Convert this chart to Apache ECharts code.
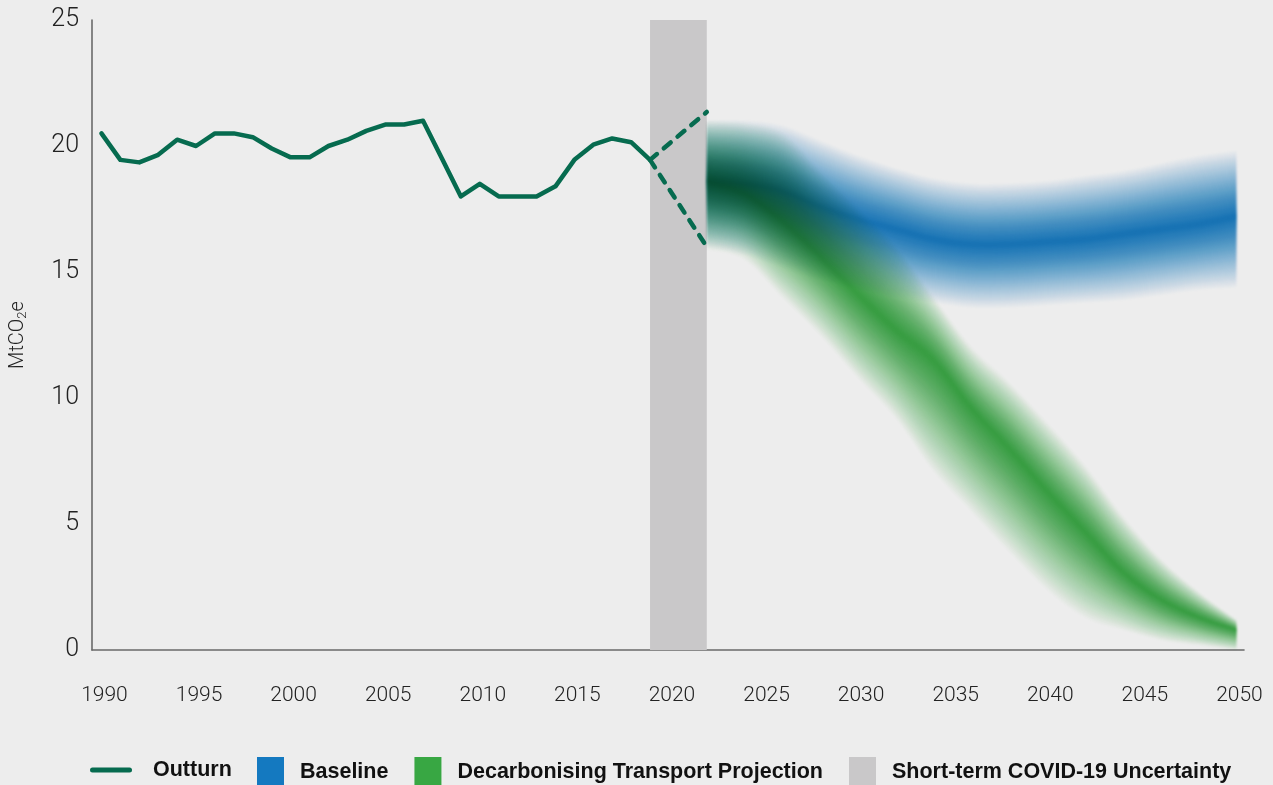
<!DOCTYPE html>
<html>
<head>
<meta charset="utf-8">
<script src="https://cdn.jsdelivr.net/npm/echarts@6/dist/echarts.min.js"></script>
<style>
  html, body { margin: 0; padding: 0; background: #ededed; }
  #chart { width: 1273px; height: 785px; }
  /* the two projection fans sit on their own canvas layers and multiply where they overlap */
  #chart canvas[data-zr-dom-id="zr_1"],
  #chart canvas[data-zr-dom-id="zr_2"] { mix-blend-mode: multiply; filter: blur(1.2px); }
</style>
</head>
<body>
<div id="chart"></div>
<script>
// ---- Data (MtCO2e) ----
const outturnYears = [1990, 1991, 1992, 1993, 1994, 1995, 1996, 1997, 1998, 1999,
                      2000, 2001, 2002, 2003, 2004, 2005, 2006, 2007, 2008, 2009,
                      2010, 2011, 2012, 2013, 2014, 2015, 2016, 2017, 2018, 2019];
const outturnValues = [20.5, 19.45, 19.35, 19.65, 20.25, 20.0, 20.5, 20.5, 20.35, 19.9,
                       19.55, 19.55, 20.0, 20.25, 20.6, 20.85, 20.85, 21.0, 19.5, 18.0,
                       18.5, 18.0, 18.0, 18.0, 18.4, 19.45, 20.05, 20.3, 20.15, 19.45];

// short-term COVID-19 range
const covidWindow = [2019, 2022];
const covidYears = [2019, 2022];
const covidHigh = [19.45, 21.35];
const covidLow = [19.45, 16.0];

// projection fans
const projectionYears = [2022, 2024, 2026, 2028, 2030, 2032, 2034, 2036, 2038, 2040, 2042, 2044, 2046, 2048, 2050];
const baselineHigh   = [21.0, 21.0, 20.8, 20.2, 19.6, 19.1, 18.7, 18.5, 18.5, 18.6, 18.8, 19.0, 19.3, 19.6, 19.8];
const baselineCentre = [18.6, 18.5, 18.2, 17.6, 17.1, 16.7, 16.3, 16.1, 16.1, 16.2, 16.3, 16.5, 16.7, 16.9, 17.2];
const baselineLow    = [16.0, 15.7, 15.2, 14.7, 14.3, 14.0, 13.8, 13.6, 13.6, 13.7, 13.8, 13.9, 14.1, 14.3, 14.4];
const decarbHigh     = [21.0, 20.9, 20.5, 19.0, 17.5, 16.0, 14.0, 12.0, 10.6, 9.0, 7.3, 5.3, 3.6, 2.3, 1.2];
const decarbCentre   = [18.6, 18.1, 17.0, 15.6, 14.1, 12.7, 11.5, 9.6, 8.0, 6.3, 4.7, 3.1, 2.0, 1.3, 0.8];
const decarbLow      = [15.9, 15.5, 14.0, 12.5, 10.8, 9.2, 7.1, 5.5, 3.9, 2.4, 1.3, 0.8, 0.4, 0.2, 0.0];

const xTickYears = [1990, 1995, 2000, 2005, 2010, 2015, 2020, 2025, 2030, 2035, 2040, 2045, 2050];

// ---- Colours ----
const OUTTURN = '#066b4f';
const BLUE = '#1479c0';
const GREEN = '#38a743';
const GREY = '#c9c8c9';

// Catmull-Rom through pixel points, written as cubic bezier segments
function smoothSegments(pts) {
  let d = '';
  const f = n => n.toFixed(2);
  for (let i = 0; i < pts.length - 1; i++) {
    const p0 = pts[Math.max(i - 1, 0)], p1 = pts[i], p2 = pts[i + 1], p3 = pts[Math.min(i + 2, pts.length - 1)];
    const c1 = [p1[0] + (p2[0] - p0[0]) / 6, p1[1] + (p2[1] - p0[1]) / 6];
    const c2 = [p2[0] - (p3[0] - p1[0]) / 6, p2[1] - (p3[1] - p1[1]) / 6];
    d += ' C' + f(c1[0]) + ' ' + f(c1[1]) + ' ' + f(c2[0]) + ' ' + f(c2[1]) + ' ' + f(p2[0]) + ' ' + f(p2[1]);
  }
  return d;
}

// soft fan: nested bands around the centre line; layer alphas are chosen so the
// combined opacity falls off roughly linearly from the centre to the outer edge
const LAYERS = 32;
const FALLOFF = 1.15;
function fanRenderer(years, centre, high, low, color) {
  return function (params, api) {
    const children = [];
    for (let k = LAYERS; k >= 1; k--) {
      const s = k / LAYERS;
      const alpha = 1 - Math.pow(k / (k + 1), FALLOFF);
      const up = years.map((y, i) => api.coord([y, centre[i] + (high[i] - centre[i]) * s]));
      const dn = years.map((y, i) => api.coord([y, centre[i] - (centre[i] - low[i]) * s])).reverse();
      const d = 'M' + up[0][0].toFixed(2) + ' ' + up[0][1].toFixed(2) + smoothSegments(up) +
                ' L' + dn[0][0].toFixed(2) + ' ' + dn[0][1].toFixed(2) + smoothSegments(dn) + ' Z';
      children.push({
        type: 'path',
        shape: { pathData: d },
        style: { fill: color, opacity: alpha }
      });
    }
    return { type: 'group', children: children };
  };
}

const chart = echarts.init(document.getElementById('chart'), null, { renderer: 'canvas' });

const axisFont = 'Roboto, "Liberation Sans", sans-serif';
const legendText = { fontFamily: '"Liberation Sans", Arial, sans-serif', fontWeight: 'bold', fontSize: 21.5, color: '#111' };

chart.setOption({
  backgroundColor: '#ededed',
  animation: false,
  grid: { left: 92, right: 29, top: 20, bottom: 135 },
  legend: [
    {
      data: [{ name: 'Outturn', icon: 'path://M2.5,0 L39.5,0 A2.5,2.5 0 0 1 39.5,5 L2.5,5 A2.5,2.5 0 0 1 2.5,0 Z' }],
      left: 90, top: 759, padding: 0,
      itemWidth: 42, itemHeight: 5,
      textStyle: Object.assign({ padding: [0, 0, 0, 16] }, legendText)
    },
    {
      data: ['Baseline', 'Decarbonising Transport Projection', 'Short-term COVID-19 Uncertainty'],
      left: 257, top: 757, padding: 0,
      icon: 'rect',
      itemWidth: 27, itemHeight: 30, itemGap: 26,
      textStyle: Object.assign({ padding: [0, 0, 0, 11] }, legendText)
    }
  ],
  xAxis: {
    type: 'value',
    min: 1989.5, max: 2050.4,
    axisLine: { show: true, lineStyle: { color: '#6a6a6a', width: 1.6 } },
    axisTick: { show: false },
    splitLine: { show: false },
    axisLabel: {
      customValues: xTickYears,
      formatter: v => String(v),
      margin: 35,
      fontFamily: axisFont, fontWeight: 300, fontSize: 21, color: '#222',
      padding: [0, 0, 0, 6]
    }
  },
  yAxis: {
    type: 'value',
    min: 0, max: 25, interval: 5,
    name: 'MtCO{sub|2}e',
    nameLocation: 'middle',
    nameGap: 63,
    nameTextStyle: {
      fontFamily: axisFont, fontWeight: 300, fontSize: 20, color: '#222',
      rich: { sub: { fontFamily: axisFont, fontWeight: 300, fontSize: 13, color: '#222', verticalAlign: 'bottom', padding: [9, 0, 0, 0] } }
    },
    axisLine: { show: true, lineStyle: { color: '#6a6a6a', width: 1.6 } },
    axisTick: { show: false },
    splitLine: { show: false },
    axisLabel: { margin: 13, fontFamily: axisFont, fontWeight: 300, fontSize: 25, color: '#222', padding: [5, 0, 0, 0] }
  },
  series: [
    {
      name: 'Short-term COVID-19 Uncertainty',
      type: 'custom',
      itemStyle: { color: GREY },
      z: 1,
      data: [[covidWindow[0], covidWindow[1]]],
      renderItem: (params, api) => {
        const a = api.coord([api.value(0), 25]);
        const b = api.coord([api.value(1), 0]);
        return { type: 'rect', shape: { x: a[0], y: a[1], width: b[0] - a[0], height: b[1] - a[1] }, style: { fill: GREY } };
      }
    },
    {
      name: 'Decarbonising Transport Projection',
      type: 'custom',
      itemStyle: { color: GREEN },
      zlevel: 1,
      data: [[projectionYears[0], decarbCentre[0]]],
      renderItem: fanRenderer(projectionYears, decarbCentre, decarbHigh, decarbLow, GREEN)
    },
    {
      name: 'Baseline',
      type: 'custom',
      itemStyle: { color: BLUE },
      zlevel: 2,
      data: [[projectionYears[0], baselineCentre[0]]],
      renderItem: fanRenderer(projectionYears, baselineCentre, baselineHigh, baselineLow, BLUE)
    },
    {
      name: 'Outturn',
      type: 'line',
      zlevel: 3,
      symbol: 'none',
      data: outturnYears.map((y, i) => [y, outturnValues[i]]),
      itemStyle: { color: OUTTURN },
      lineStyle: { color: OUTTURN, width: 4.5, cap: 'round', join: 'round' }
    },
    {
      name: 'COVID high',
      type: 'line',
      zlevel: 3,
      symbol: 'none',
      data: covidYears.map((y, i) => [y, covidHigh[i]]),
      lineStyle: { color: OUTTURN, width: 4.5, type: [9, 9], cap: 'round' }
    },
    {
      name: 'COVID low',
      type: 'line',
      zlevel: 3,
      symbol: 'none',
      data: covidYears.map((y, i) => [y, covidLow[i]]),
      lineStyle: { color: OUTTURN, width: 4.5, type: [9, 9], cap: 'round' }
    }
  ]
});
</script>
</body>
</html>
